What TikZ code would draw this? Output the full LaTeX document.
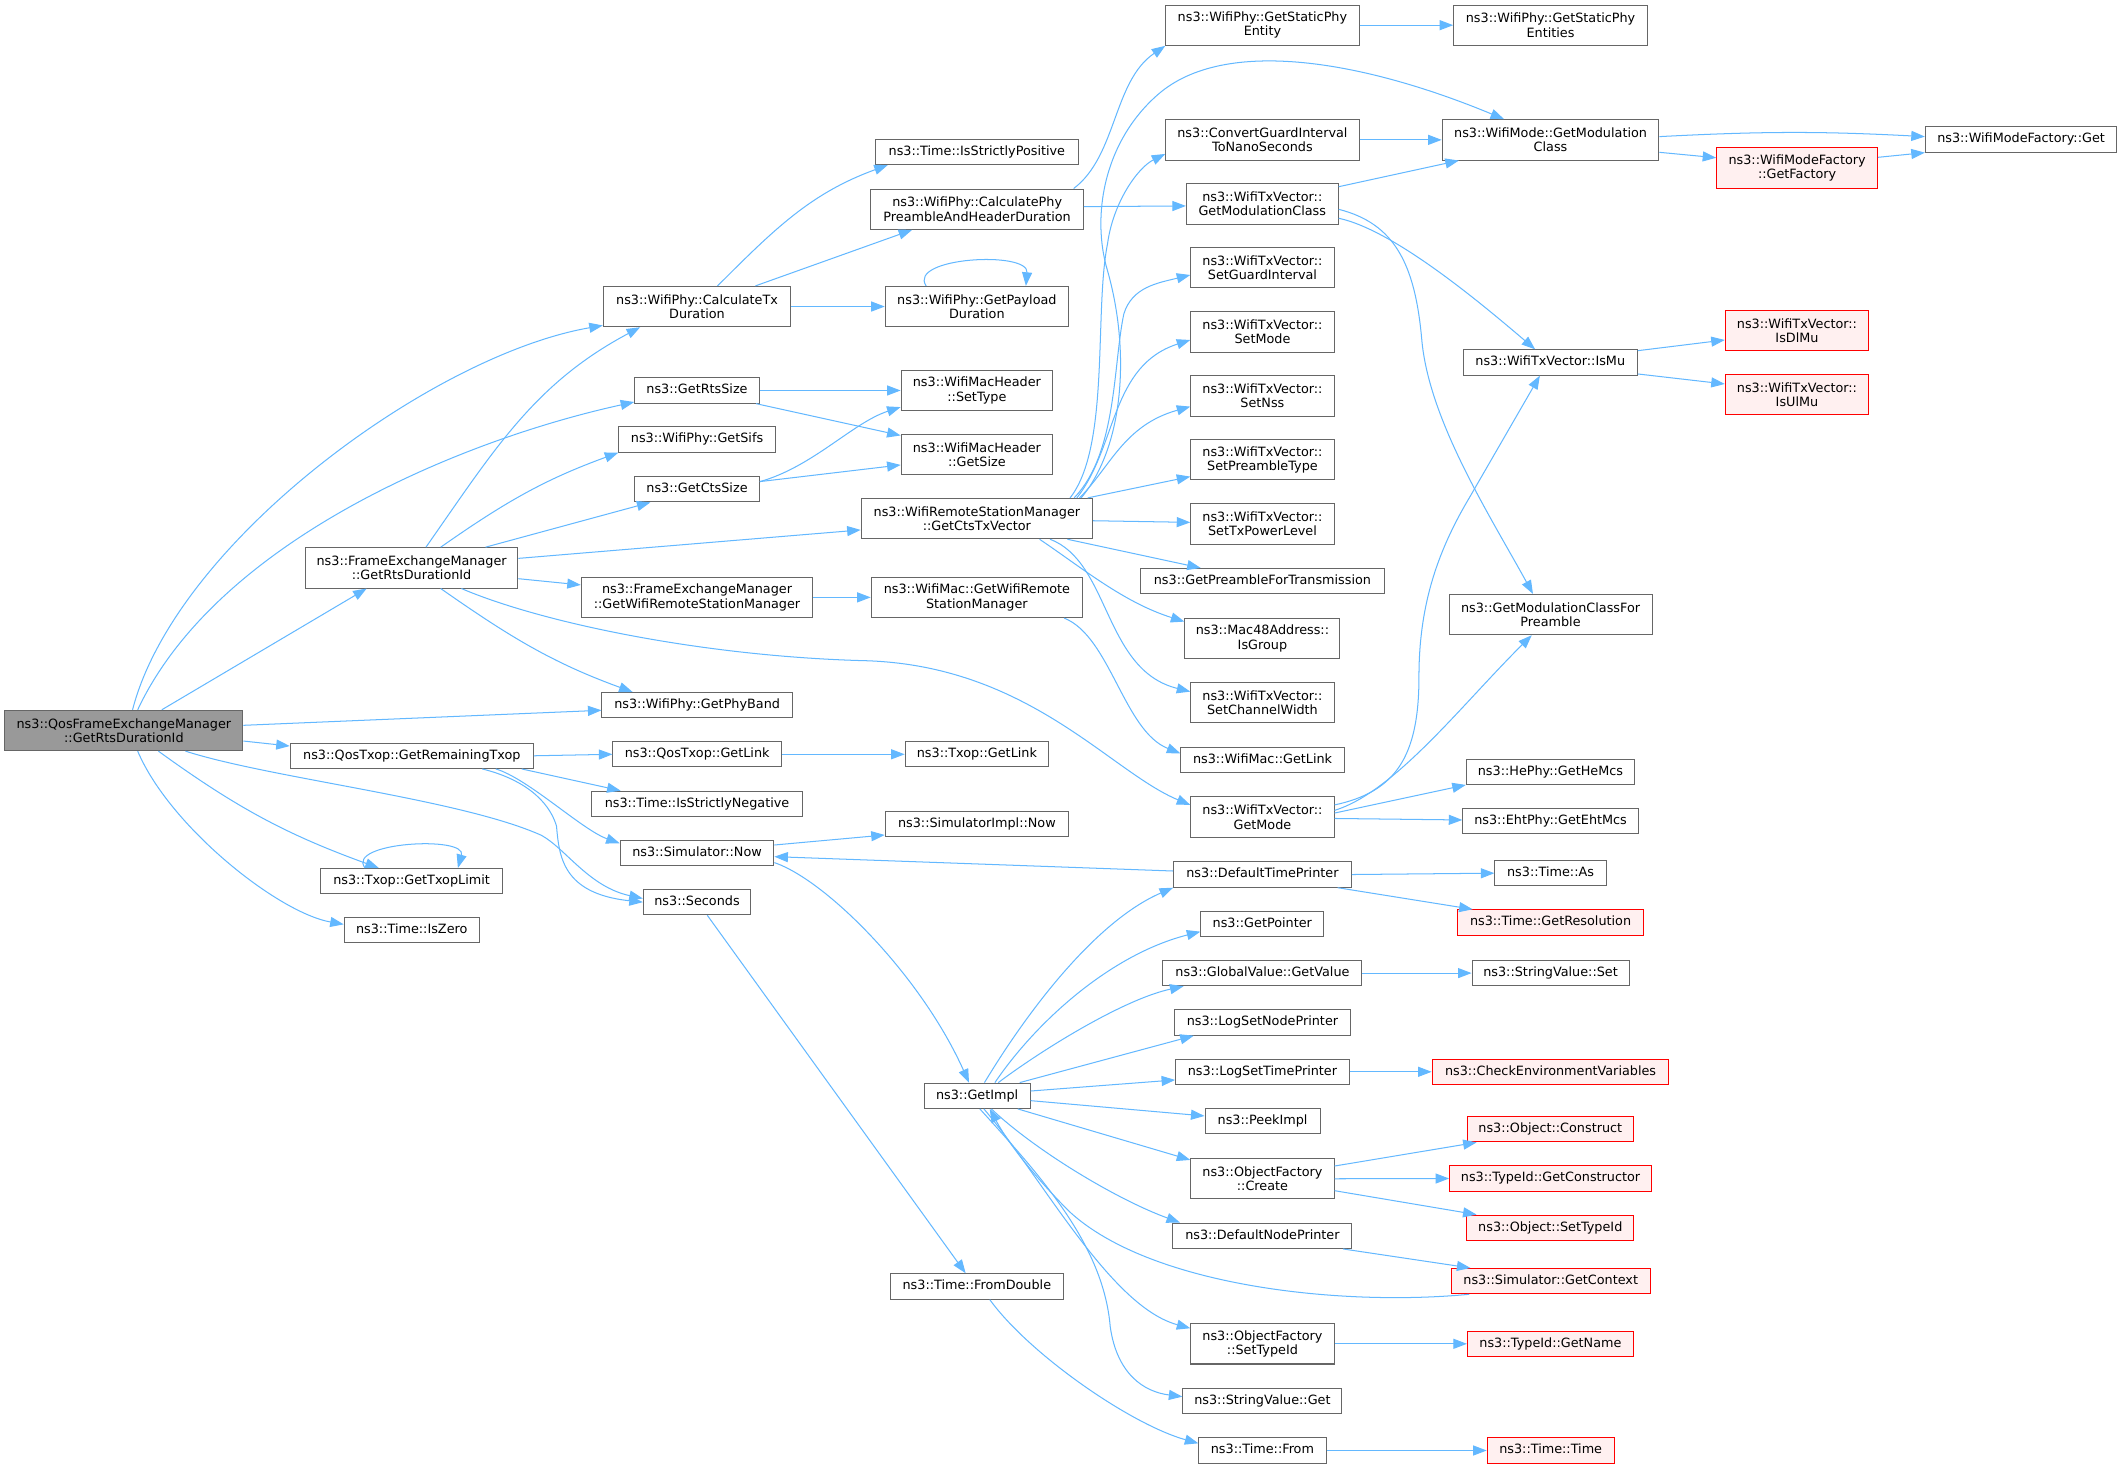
\documentclass[tikz,border=0pt]{standalone}
\usepackage{fontspec}
\setmainfont{DejaVu Sans}
\usetikzlibrary{arrows.meta,calc}
\definecolor{eblue}{HTML}{63B8FF}
\definecolor{ngray}{HTML}{666666}
\definecolor{rootfill}{HTML}{999999}
\definecolor{nred}{HTML}{FF0000}
\definecolor{nredfill}{HTML}{FFF0F0}
\begin{document}
\begin{tikzpicture}[x=1pt,y=-1pt,
  nd/.style={draw=ngray,fill=white,line width=0.75pt,inner xsep=2pt,inner ysep=1pt,
    minimum height=18.7pt,align=center,font=\fontsize{9.45pt}{10.6pt}\selectfont},
  one/.style={text height=7.1pt,text depth=2.1pt},
  two/.style={minimum height=29.8pt},
  redn/.style={draw=nred,fill=nredfill},
  mainn/.style={fill=rootfill,draw=ngray},
  e/.style={draw=eblue,line width=0.75pt,-{Triangle[length=10pt,width=7.4pt]}}]
\fill[white] (0,0) rectangle (1568,1084);
\useasboundingbox (0,0) rectangle (1568,1084);

% ---- column 1
\node[nd,two,mainn,minimum width=175.7pt] (main) at (91.5,539.5) {ns3::QosFrameExchangeManager\\::GetRtsDurationId};
% ---- column 2a
\node[nd,two,minimum width=156.9pt] (femRts) at (304,419.4) {ns3::FrameExchangeManager\\::GetRtsDurationId};
\node[nd,one,minimum width=179.6pt] (remTxop) at (304.2,558.2) {ns3::QosTxop::GetRemainingTxop};
\node[nd,one,minimum width=134.2pt] (txopLimit) at (304,650.8) {ns3::Txop::GetTxopLimit};
\node[nd,one,minimum width=99.7pt] (isZero) at (304.1,687.1) {ns3::Time::IsZero};
% ---- column 2b
\node[nd,two,minimum width=138.4pt] (calcTx) at (514.8,226.4) {ns3::WifiPhy::CalculateTx\\Duration};
\node[nd,one,minimum width=92pt] (rtsSize) at (514.8,288.4) {ns3::GetRtsSize};
\node[nd,one,minimum width=115.5pt] (sifs) at (514.8,324.6) {ns3::WifiPhy::GetSifs};
\node[nd,one,minimum width=92pt] (ctsSize) at (514.8,361.3) {ns3::GetCtsSize};
\node[nd,two,minimum width=170.9pt] (getWifiRSM) at (514.8,441.2) {ns3::FrameExchangeManager\\::GetWifiRemoteStationManager};
\node[nd,one,minimum width=140.6pt] (phyBand) at (514.9,520.8) {ns3::WifiPhy::GetPhyBand};
\node[nd,one,minimum width=124.4pt] (qosGetLink) at (514.9,557.1) {ns3::QosTxop::GetLink};
\node[nd,one,minimum width=156.1pt] (isNeg) at (514.8,593.7) {ns3::Time::IsStrictlyNegative};
\node[nd,one,minimum width=113.5pt] (simNow) at (514.8,630.1) {ns3::Simulator::Now};
\node[nd,one,minimum width=79.3pt] (seconds) at (514.8,666.3) {ns3::Seconds};
% ---- column 3
\node[nd,one,minimum width=149.9pt] (ISP) at (721.5,112.2) {ns3::Time::IsStrictlyPositive};
\node[nd,two,minimum width=157pt] (calcPhyPre) at (721.7,154.5) {ns3::WifiPhy::CalculatePhy\\PreambleAndHeaderDuration};
\node[nd,two,minimum width=135.3pt] (getPayload) at (721.5,226.4) {ns3::WifiPhy::GetPayload\\Duration};
\node[nd,two,minimum width=111.9pt] (setType) at (721.5,288.4) {ns3::WifiMacHeader\\::SetType};
\node[nd,two,minimum width=111.9pt] (getSize) at (721.5,335.7) {ns3::WifiMacHeader\\::GetSize};
\node[nd,two,minimum width=170.9pt] (getCtsTx) at (721.5,383) {ns3::WifiRemoteStationManager\\::GetCtsTxVector};
\node[nd,two,minimum width=156.1pt] (wifiMacRSM) at (721.5,441.2) {ns3::WifiMac::GetWifiRemote\\StationManager};
\node[nd,one,minimum width=105.9pt] (txopGetLink) at (721.5,557.1) {ns3::Txop::GetLink};
\node[nd,one,minimum width=135.3pt] (simImplNow) at (721.5,608.5) {ns3::SimulatorImpl::Now};
\node[nd,one,minimum width=78.1pt] (getImpl) at (721.7,809.3) {ns3::GetImpl};
\node[nd,one,minimum width=127.7pt] (fromDouble) at (721.5,950.1) {ns3::Time::FromDouble};
% ---- column 4
\node[nd,two,minimum width=142.8pt] (staticPhyEntity) at (932.4,18.6) {ns3::WifiPhy::GetStaticPhy\\Entity};
\node[nd,two,minimum width=142.8pt] (convGI) at (932.4,103.3) {ns3::ConvertGuardInterval\\ToNanoSeconds};
\node[nd,two,minimum width=112.1pt] (txvModClass) at (932.3,150.6) {ns3::WifiTxVector::\\GetModulationClass};
\node[nd,two,minimum width=105.8pt] (setGI) at (932.4,197.8) {ns3::WifiTxVector::\\SetGuardInterval};
\node[nd,two,minimum width=105.8pt] (setMode) at (932.4,245.1) {ns3::WifiTxVector::\\SetMode};
\node[nd,two,minimum width=105.8pt] (setNss) at (932.4,292.4) {ns3::WifiTxVector::\\SetNss};
\node[nd,two,minimum width=105.8pt] (setPreamble) at (932.4,339.6) {ns3::WifiTxVector::\\SetPreambleType};
\node[nd,two,minimum width=105.8pt] (setTxPow) at (932.4,386.9) {ns3::WifiTxVector::\\SetTxPowerLevel};
\node[nd,one,minimum width=179.6pt] (getPreamble) at (932.4,429.2) {ns3::GetPreambleForTransmission};
\node[nd,two,minimum width=114.5pt] (isGroup) at (932.4,471.6) {ns3::Mac48Address::\\IsGroup};
\node[nd,two,minimum width=105.8pt] (setCW) at (932.4,518.8) {ns3::WifiTxVector::\\SetChannelWidth};
\node[nd,one,minimum width=120.7pt] (macGetLink) at (932.5,561.2) {ns3::WifiMac::GetLink};
\node[nd,two,minimum width=105.8pt] (getMode) at (932.4,603.5) {ns3::WifiTxVector::\\GetMode};
\node[nd,one,minimum width=131.2pt] (defTimePrinter) at (932.4,645.9) {ns3::DefaultTimePrinter};
\node[nd,one,minimum width=90.8pt] (getPointer) at (932.3,682.3) {ns3::GetPointer};
\node[nd,one,minimum width=147pt] (globalGetValue) at (932.4,718.7) {ns3::GlobalValue::GetValue};
\node[nd,one,minimum width=129.7pt] (logNode) at (932.4,755.2) {ns3::LogSetNodePrinter};
\node[nd,one,minimum width=128.2pt] (logTime) at (932.4,791.6) {ns3::LogSetTimePrinter};
\node[nd,one,minimum width=85pt] (peekImpl) at (932.5,828) {ns3::PeekImpl};
\node[nd,two,minimum width=105.8pt] (objCreate) at (932.4,870.6) {ns3::ObjectFactory\\::Create};
\node[nd,one,minimum width=132.2pt] (defNodePrinter) at (932.4,912.7) {ns3::DefaultNodePrinter};
\node[nd,two,minimum width=105.8pt] (objSetTypeIdF) at (932.4,992.5) {ns3::ObjectFactory\\::SetTypeId};
\node[nd,one,minimum width=117.5pt] (strGet) at (932.4,1034.8) {ns3::StringValue::Get};
\node[nd,one,minimum width=93.9pt] (timeFrom) at (932.4,1071.3) {ns3::Time::From};
% ---- column 5
\node[nd,two,minimum width=143.1pt] (staticPhyEntities) at (1145.2,18.6) {ns3::WifiPhy::GetStaticPhy\\Entities};
\node[nd,two,minimum width=160.1pt] (modClass) at (1145.2,103.3) {ns3::WifiMode::GetModulation\\Class};
\node[nd,one,minimum width=128.5pt] (isMu) at (1145,267.7) {ns3::WifiTxVector::IsMu};
\node[nd,two,minimum width=150pt] (modClassPre) at (1145.2,453.9) {ns3::GetModulationClassFor\\Preamble};
\node[nd,one,minimum width=124.2pt] (heMcs) at (1145.1,570) {ns3::HePhy::GetHeMcs};
\node[nd,one,minimum width=129.6pt] (ehtMcs) at (1145.2,606.5) {ns3::EhtPhy::GetEhtMcs};
\node[nd,one,minimum width=82.2pt] (timeAs) at (1145.2,644.9) {ns3::Time::As};
\node[nd,one,redn,minimum width=137.1pt] (getRes) at (1145.2,681.3) {ns3::Time::GetResolution};
\node[nd,one,minimum width=115.9pt] (strSet) at (1145.2,718.7) {ns3::StringValue::Set};
\node[nd,one,redn,minimum width=174.9pt] (checkEnv) at (1145.2,791.6) {ns3::CheckEnvironmentVariables};
\node[nd,one,redn,minimum width=122.8pt] (objConstruct) at (1145,834) {ns3::Object::Construct};
\node[nd,one,redn,minimum width=149.1pt] (getConstructor) at (1145.2,870.4) {ns3::TypeId::GetConstructor};
\node[nd,one,redn,minimum width=123.3pt] (objSetTypeId) at (1145,906.8) {ns3::Object::SetTypeId};
\node[nd,one,redn,minimum width=146.8pt] (getContext) at (1145.3,946.2) {ns3::Simulator::GetContext};
\node[nd,one,redn,minimum width=122.6pt] (getName) at (1145.1,992.5) {ns3::TypeId::GetName};
\node[nd,one,redn,minimum width=93.8pt] (timeTime) at (1145.3,1071.3) {ns3::Time::Time};
% ---- columns 6, 7
\node[nd,two,redn,minimum width=118.7pt] (getFactory) at (1327.3,124) {ns3::WifiModeFactory\\::GetFactory};
\node[nd,two,redn,minimum width=105.9pt] (isDlMu) at (1327.2,244.1) {ns3::WifiTxVector::\\IsDlMu};
\node[nd,two,redn,minimum width=105.9pt] (isUlMu) at (1327.2,291.4) {ns3::WifiTxVector::\\IsUlMu};
\node[nd,one,minimum width=141.4pt] (modeFactoryGet) at (1492.7,103) {ns3::WifiModeFactory::Get};

% ================= edges
% main
\draw[e] ($(main.north)+(6.4,0)$) .. controls (130,400) and (320,262) .. ($(calcTx.south west)+(0,-1.3)$);
\draw[e] ($(main.north)+(10.2,0)$) .. controls (160,400) and (340,325) .. ($(rtsSize.south west)+(0,-1.2)$);
\draw[e] ($(main.north)+(28,0)$) -- ($(femRts.south)+(-33.2,0)$);
\draw[e] ($(main.east)+(0,-3.8)$) -- ($(phyBand.west)+(0,3.8)$);
\draw[e] ($(main.east)+(0,7.8)$) -- ($(remTxop.west)+(0,-7.2)$);
\draw[e] ($(main.south)+(45.5,0)$) .. controls (200,575) and (340,590) .. (400,617) .. controls (418,627) and (435,655) .. ($(seconds.west)+(0,-2.7)$);
\draw[e] ($(main.south)+(25.5,0)$) to[bend right=8] ($(txopLimit.north)+(-24.2,0)$);
\draw[e] ($(main.south)+(10.2,0)$) .. controls (125,610) and (205,674) .. ($(isZero.west)+(0,-4.4)$);
% femRts
\draw[e] ($(femRts.north)+(10.6,0)$) to[out=55,in=-152] ($(calcTx.south)+(-42,0)$);
\draw[e] ($(femRts.north)+(21.5,0)$) to[out=35,in=-160] (sifs.south west);
\draw[e] ($(femRts.north)+(54.6,0)$) -- ($(ctsSize.south)+(-34.4,0)$);
\draw[e] ($(femRts.east)+(0,-7)$) -- ($(getCtsTx.west)+(0,8.4)$);
\draw[e] ($(femRts.east)+(0,8)$) -- ($(getWifiRSM.west)+(0,-9.2)$);
\draw[e] ($(femRts.south)+(36.8,0)$) .. controls (400,460) and (520,485) .. (640,488) .. controls (760,492) and (820,570) .. ($(getMode.west)+(0,-9)$);
\draw[e] ($(femRts.south)+(21.5,0)$) to[out=-35,in=160] ($(phyBand.north west)+(23,0)$);
% calcTx
\draw[e] ($(calcTx.north)+(15.2,0)$) to[out=45,in=-160] ($(ISP.south west)+(9.5,0)$);
\draw[e] ($(calcTx.north)+(43.2,0)$) -- ($(calcPhyPre.south)+(-48,0)$);
\draw[e] (calcTx.east) -- (getPayload.west);
\draw[e] ($(getPayload.north)+(-37.5,0)$) .. controls (670,190) and (760,185) .. ($(getPayload.north)+(36.2,0)$);
% rts / cts size
\draw[e] (rtsSize.east) -- (setType.west);
\draw[e] ($(rtsSize.south east)+(-2.8,0)$) -- ($(getSize.north west)+(0,1.2)$);
\draw[e] ($(ctsSize.east)+(0,-5.6)$) .. controls (600,345) and (630,312) .. ($(setType.south west)+(0,-3)$);
\draw[e] ($(ctsSize.east)+(0,-5.6)$) -- ($(getSize.west)+(0,7.7)$);
% remote station manager
\draw[e] (getWifiRSM.east) -- (wifiMacRSM.west);
\draw[e] ($(wifiMacRSM.south east)+(-14,0)$) .. controls (820,470) and (830,540) .. ($(macGetLink.west)+(0,-4.8)$);
% calcPhyPre
\draw[e] ($(calcPhyPre.north)+(71.3,0)$) .. controls (825,115) and (822,60) .. (staticPhyEntity.south west);
\draw[e] ($(calcPhyPre.east)+(0,-1.9)$) -- ($(txvModClass.west)+(0,1.5)$);
% getCtsTx
\draw[e] ($(getCtsTx.north east)+(-8.8,0)$) .. controls (830,330) and (835,260) .. (818,200) .. controls (806,160) and (815,105) .. (855,70) .. controls (905,26) and (1009.7,46) .. ($(modClass.north)+(-34.3,0)$);
\draw[e] ($(getCtsTx.north east)+(-17,0)$) .. controls (820,330) and (808,230) .. (818,180) .. controls (822,150) and (840,124) .. ($(convGI.west)+(0,10.4)$);
\draw[e] ($(getCtsTx.north east)+(-14,0)$) .. controls (825,335) and (822,270) .. (830,232) .. controls (836,212) and (855,209) .. ($(setGI.west)+(0,5.3)$);
\draw[e] ($(getCtsTx.north east)+(-12,0)$) .. controls (825,330) and (820,270) .. ($(setMode.west)+(0,6)$);
\draw[e] ($(getCtsTx.north east)+(-10,0)$) .. controls (820,345) and (830,314) .. ($(setNss.west)+(0,7.9)$);
\draw[e] ($(getCtsTx.north east)+(-4,0)$) -- ($(setPreamble.west)+(0,12.4)$);
\draw[e] ($(getCtsTx.east)+(0,1.6)$) -- ($(setTxPow.west)+(0,-1.1)$);
\draw[e] ($(getCtsTx.south east)+(-19,0)$) -- ($(getPreamble.north west)+(44.6,0)$);
\draw[e] ($(getCtsTx.south)+(46.3,0)$) .. controls (800,420) and (830,445) .. ($(isGroup.west)+(0,-12.5)$);
\draw[e] ($(getCtsTx.south)+(54,0)$) .. controls (820,415) and (815,495) .. ($(setCW.west)+(0,-8)$);
% txvModClass
\draw[e] ($(txvModClass.east)+(0,-12.7)$) -- ($(modClass.south west)+(12.7,0)$);
\draw[e] ($(txvModClass.east)+(0,10.6)$) .. controls (1030,170) and (1095,225) .. ($(isMu.north)+(-11.2,0)$);
\draw[e] ($(txvModClass.east)+(0,4)$) .. controls (1030,165) and (1045,195) .. (1050,250) .. controls (1055,310) and (1100,380) .. ($(modClassPre.north)+(-13,0)$);
% convGI, static phy
\draw[e] (convGI.east) -- (modClass.west);
\draw[e] (staticPhyEntity.east) -- (staticPhyEntities.west);
% modClass
\draw[e] ($(modClass.east)+(0,-2.4)$) to[bend left=3] ($(modeFactoryGet.west)+(0,-2.1)$);
\draw[e] ($(modClass.east)+(0,9.2)$) -- ($(getFactory.west)+(0,-7.5)$);
\draw[e] ($(getFactory.east)+(0,-7.8)$) -- (modeFactoryGet.south west);
% isMu
\draw[e] ($(isMu.east)+(0,-8.7)$) -- ($(isDlMu.west)+(0,7)$);
\draw[e] ($(isMu.east)+(0,8.5)$) -- ($(isUlMu.west)+(0,-7.8)$);
% getMode
\draw[e] ($(getMode.east)+(0,-9)$) .. controls (1030,585) and (1048,560) .. (1048,500) .. controls (1048,450) and (1060,410) .. (1085,368) -- ($(isMu.south)+(-7.7,0)$);
\draw[e] ($(getMode.east)+(0,-5)$) .. controls (1030,585) and (1080,520) .. ($(modClassPre.south)+(-13.9,0)$);
\draw[e] ($(getMode.east)+(0,-3)$) -- (heMcs.south west);
\draw[e] ($(getMode.east)+(0,1)$) -- ($(ehtMcs.west)+(0,-0.9)$);
% remTxop
\draw[e] (remTxop.east) -- (qosGetLink.west);
\draw[e] ($(remTxop.south east)+(-9,0)$) -- ($(isNeg.north west)+(22,0)$);
\draw[e] ($(remTxop.south)+(62,0)$) .. controls (390,575) and (430,613) .. ($(simNow.west)+(0,-7.3)$);
\draw[e] ($(remTxop.south)+(52,0)$) .. controls (385,575) and (405,590) .. (411,610) .. controls (413,632) and (415,660) .. (seconds.west);
\draw[e] (qosGetLink.east) -- (txopGetLink.west);
% simulator
\draw[e] ($(simNow.east)+(0,-6)$) -- ($(simImplNow.west)+(0,8.2)$);
\draw[e] ($(simNow.east)+(0,7)$) .. controls (610,650) and (680,720) .. ($(getImpl.north)+(-6,0)$);
\draw[e] ($(defTimePrinter.west)+(0,-2.6)$) -- ($(simNow.east)+(0,2.6)$);
\draw[e] ($(seconds.south)+(7.6,0)$) -- ($(fromDouble.north)+(-8.3,0)$);
\draw[e] ($(fromDouble.south)+(9.5,0)$) .. controls (760,1000) and (835,1052) .. ($(timeFrom.west)+(0,-5.3)$);
\draw[e] (timeFrom.east) -- (timeTime.west);
% getImpl
\draw[e] ($(getImpl.north)+(5.4,0)$) .. controls (760,745) and (810,680) .. (defTimePrinter.south west);
\draw[e] ($(getImpl.north)+(13.1,0)$) .. controls (765,755) and (820,705) .. ($(getPointer.west)+(0,5.8)$);
\draw[e] ($(getImpl.north)+(15.6,0)$) .. controls (770,775) and (830,738) .. ($(globalGetValue.south west)+(15.6,0)$);
\draw[e] ($(getImpl.north east)+(-8,0)$) -- ($(logNode.south west)+(14.5,0)$);
\draw[e] ($(getImpl.east)+(0,-3.5)$) -- ($(logTime.west)+(0,6)$);
\draw[e] ($(getImpl.east)+(0,3.6)$) -- ($(peekImpl.west)+(0,-3.8)$);
\draw[e] ($(getImpl.south east)+(-9.4,0)$) -- ($(objCreate.west)+(0,-13.9)$);
\draw[e] ($(getImpl.south)+(10.5,0)$) .. controls (765,850) and (825,886) .. ($(defNodePrinter.north west)+(5.6,0)$);
\draw[e] ($(getImpl.south)+(5,0)$) .. controls (770,870) and (820,965) .. ($(objSetTypeIdF.west)+(0,-11.5)$);
\draw[e] ($(getImpl.south)+(2,0)$) .. controls (770,870) and (815,920) .. (820,980) .. controls (825,1015) and (845,1028) .. ($(strGet.west)+(0,-3.3)$);
\draw[e] ($(getContext.south west)+(13.6,0)$) .. controls (990,965) and (850,950) .. (790,895) .. controls (765,870) and (745,845) .. ($(getImpl.south)+(9.3,0)$);
% column 4 -> 5
\draw[e] (defTimePrinter.east) -- (timeAs.west);
\draw[e] ($(defTimePrinter.south east)+(-10.4,0)$) -- ($(getRes.north west)+(11.4,0)$);
\draw[e] (globalGetValue.east) -- (strSet.west);
\draw[e] (logTime.east) -- (checkEnv.west);
\draw[e] ($(objCreate.east)+(0,-9.4)$) -- ($(objConstruct.south west)+(7.4,0)$);
\draw[e] (objCreate.east) -- (getConstructor.west);
\draw[e] ($(objCreate.east)+(0,8.8)$) -- ($(objSetTypeId.north west)+(7.6,0)$);
\draw[e] ($(defNodePrinter.south east)+(-7,0)$) -- ($(getContext.north west)+(14.5,0)$);
\draw[e] (objSetTypeIdF.east) -- (getName.west);
% self loop
\draw[e] ($(txopLimit.north)+(-34.4,0)$) .. controls (255,622) and (345,617) .. ($(txopLimit.north)+(34.2,0)$);
\end{tikzpicture}
\end{document}
